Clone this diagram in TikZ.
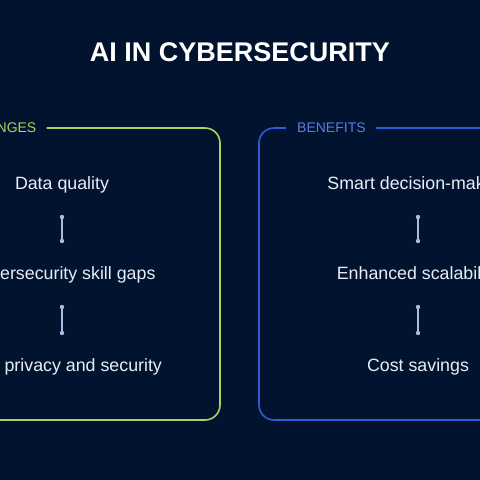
\documentclass[tikz,border=0pt]{standalone}
\usepackage{fontspec}
\setmainfont{Liberation Sans}
\usepackage{xcolor}

\definecolor{bgnavy}{HTML}{021330}
\definecolor{limegreen}{HTML}{A4D65E}
\definecolor{benefitblue}{HTML}{2E5BD6}
\definecolor{benefitlabel}{HTML}{5B7BE3}
\definecolor{linkgrey}{HTML}{A8BCE3}
\definecolor{itemwhite}{HTML}{E8EDF7}

\tikzset{
  item/.style={text=itemwhite, inner sep=0pt, font=\fontsize{17.8}{20}\selectfont},
  boxlabel/.style={anchor=west, inner sep=0pt, font=\fontsize{14}{16}\selectfont},
  frame/.style={line width=1.6pt, rounded corners=15pt},
  link/.style={linkgrey, line width=1.2pt},
}

\begin{document}
\begin{tikzpicture}[x=1pt, y=-1pt]
  \clip (0,0) rectangle (480,480);
  \fill[bgnavy] (0,0) rectangle (480,480);

  \node[text=white, font=\bfseries\fontsize{27}{30}\selectfont] (title) at (240,52) {AI IN CYBERSECURITY};

  % challenges box
  \node[boxlabel, text=limegreen] (chal) at (-58,128) {CHALLENGES};
  \draw[frame, limegreen] ([xshift=10pt]chal.east) -- (220,128) -- (220,420)
    -- (-96,420) -- (-96,128) -- ([xshift=-11pt]chal.west);
  \node[item] (c1) at (62,185) {Data quality};
  \node[item] (c2) at (62,275) {Cybersecurity skill gaps};
  \node[item] (c3) at (62,367) {Data privacy and security};

  % benefits box
  \node[boxlabel, text=benefitlabel] (bene) at (297,128) {BENEFITS};
  \draw[frame, benefitblue] ([xshift=10pt]bene.east) -- (577,128) -- (577,420)
    -- (259,420) -- (259,128) -- ([xshift=-11pt]bene.west);
  \node[item] (b1) at (418,185) {Smart decision-making};
  \node[item] (b2) at (418,275) {Enhanced scalability};
  \node[item] (b3) at (418,367) {Cost savings};

  % links between items
  \foreach \a/\b in {c1/c2, c2/c3, b1/b2, b2/b3} {
    \coordinate (\a top) at ([yshift=-32pt]\a.center);
    \coordinate (\b bot) at ([yshift=34pt]\b.center);
    \draw[link] (\a top) -- (\b bot);
    \fill[linkgrey] (\a top) circle (2.2pt) (\b bot) circle (2.2pt);
  }
\end{tikzpicture}
\end{document}
